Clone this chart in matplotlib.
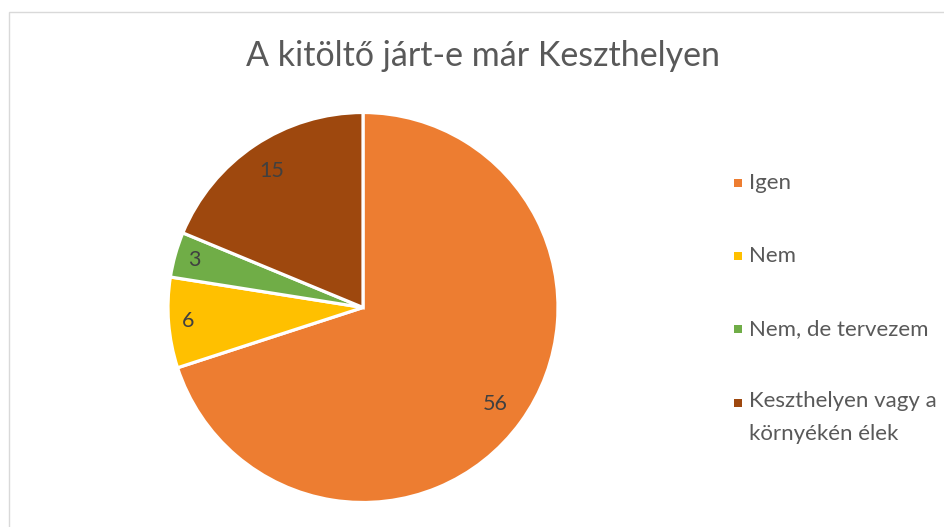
import matplotlib
matplotlib.use("Agg")
import numpy as np
import matplotlib.pyplot as plt
from matplotlib.patches import Rectangle

plt.rcParams['font.family'] = ['Lato', 'DejaVu Sans']

# data
labels = ['Igen', 'Nem', 'Nem, de tervezem', 'Keszthelyen vagy a\nkörnyékén élek']
values = [56, 6, 3, 15]
colors = ['#ED7D31', '#FFC000', '#70AD47', '#9E480E']

W, H = 945, 527
fig = plt.figure(figsize=(W / 100, H / 100), dpi=100)

# chart border
fig.patches.append(Rectangle((9 / W, -0.1), 1.1, 1 - 12 / H + 0.1, transform=fig.transFigure,
                             fill=False, edgecolor='#D9D9D9', linewidth=1))

fig.text(483 / W, 1 - 56 / H, 'A kitöltő járt-e már Keszthelyen', ha='center', va='center',
         fontsize=24.5, color='#595959')

cx, cy, r = 363, 307.5, 195
ax = fig.add_axes([(cx - r) / W, (H - cy - r) / H, 2 * r / W, 2 * r / H])
wedges, _ = ax.pie(values, colors=colors, startangle=90, counterclock=False,
                   wedgeprops=dict(edgecolor='white', linewidth=2.3))
ax.set_xlim(-1, 1)
ax.set_ylim(-1, 1)
ax.set_aspect('equal')

total = sum(values)
for w, v in zip(wedges, values):
    mid = np.deg2rad((w.theta1 + w.theta2) / 2)
    d = 0.84 if v / total > 0.1 else 0.9
    ax.text(d * np.cos(mid), d * np.sin(mid), str(v), ha='center', va='center',
            fontsize=15.5, color='#404040')

# legend
ys = [183, 256, 329, 403]
for lab, col, y in zip(labels, colors, ys):
    fig.patches.append(Rectangle((734 / W, 1 - (y + 4) / H), 8 / W, 8 / H,
                                 transform=fig.transFigure, facecolor=col, edgecolor='none'))
    if '\n' in lab:
        fig.text(749 / W, 1 - (y - 12) / H, lab, ha='left', va='top',
                 fontsize=16, color='#595959', linespacing=1.8)
    else:
        fig.text(749 / W, 1 - y / H, lab, ha='left', va='center',
                 fontsize=16, color='#595959')

fig.savefig('out.png', dpi=100)
